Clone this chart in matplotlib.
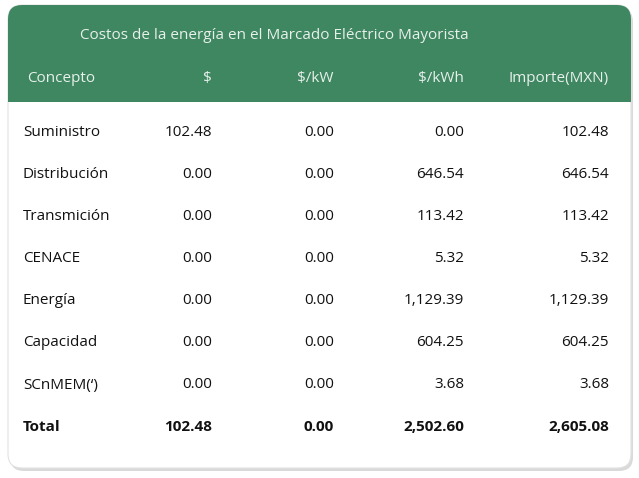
import matplotlib
matplotlib.use("Agg")
import matplotlib.pyplot as plt
from matplotlib.patches import FancyBboxPatch

title = "Costos de la energía en el Marcado Eléctrico Mayorista"
headers = ["Concepto", "$", "$/kW", "$/kWh", "Importe(MXN)"]
conceptos = ["Suministro", "Distribución", "Transmición", "CENACE", "Energía", "Capacidad", "SCnMEM(‘)", "Total"]
col_pesos = ["102.48", "0.00", "0.00", "0.00", "0.00", "0.00", "0.00", "102.48"]
col_kw = ["0.00"] * 8
col_kwh = ["0.00", "646.54", "113.42", "5.32", "1,129.39", "604.25", "3.68", "2,502.60"]
col_importe = ["102.48", "646.54", "113.42", "5.32", "1,129.39", "604.25", "3.68", "2,605.08"]

green = "#3e8761"
plt.rcParams['font.family'] = ['Open Sans', 'DejaVu Sans']
fig = plt.figure(figsize=(6.39, 4.78), dpi=100)
ax = fig.add_axes([0, 0, 1, 1])
ax.set_xlim(0, 639); ax.set_ylim(478, 0); ax.axis('off')

ax.add_patch(FancyBboxPatch((10, 8), 623, 463, boxstyle="round,pad=0,rounding_size=14",
                            fc="#d9d9d9", ec="none", zorder=0))
ax.add_patch(FancyBboxPatch((8, 5), 623, 463, boxstyle="round,pad=0,rounding_size=14",
                            fc="white", ec="#e2e2e2", lw=0.8, zorder=1))
ax.add_patch(FancyBboxPatch((8, 5), 623, 97, boxstyle="round,pad=0,rounding_size=14",
                            fc=green, ec="none", zorder=2))
ax.add_patch(plt.Rectangle((8, 60), 623, 42, fc=green, ec="none", zorder=2))

ax.text(80, 35, title, color="#e8f0ec", fontsize=11, va="center", ha="left", zorder=3)
hx = [27, 212, 334, 464, 609]
has = ["left", "right", "right", "right", "right"]
for x, h, a in zip(hx, headers, has):
    ax.text(x, 78, h, color="#e8f0ec", fontsize=11, va="center", ha=a, zorder=3)

ys = [133, 175, 217, 259, 301, 343, 385, 427]
for i, y in enumerate(ys):
    w = "bold" if i == 7 else "normal"
    ax.text(23, y, conceptos[i], fontsize=11, ha="left", va="center", color="#111", weight=w, zorder=3)
    for x, col in zip(hx[1:], [col_pesos, col_kw, col_kwh, col_importe]):
        ax.text(x, y, col[i], fontsize=11, ha="right", va="center", color="#111", weight=w, zorder=3)

fig.savefig("out.png", dpi=100)
